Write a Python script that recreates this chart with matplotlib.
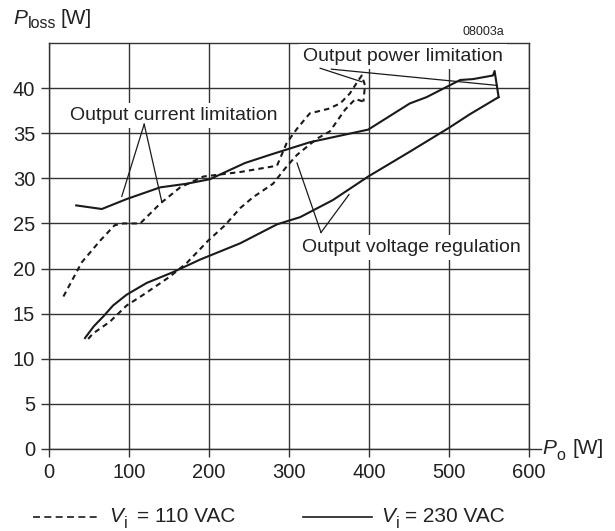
import matplotlib
matplotlib.use("Agg")
import matplotlib.pyplot as plt
from matplotlib.lines import Line2D

plt.rcParams['font.family'] = ['Liberation Sans', 'DejaVu Sans']

# 110 VAC, upper branch (output current limitation -> power limitation)
v110_upper_x = [18, 41, 64, 82, 93, 114, 139, 164, 193, 239, 285, 297, 310, 326, 349, 364, 376, 387, 391, 395, 394, 393]
v110_upper_y = [16.9, 20.7, 23.1, 24.8, 25.0, 25.0, 27.2, 29.0, 30.2, 30.7, 31.4, 33.9, 35.5, 37.2, 37.7, 38.3, 39.4, 40.9, 41.4, 40.3, 39.4, 38.5]
# 110 VAC, lower branch (output voltage regulation)
v110_lower_x = [49, 55, 76, 97, 118, 151, 172, 199, 220, 239, 255, 280, 297, 310, 335, 351, 370, 383, 393]
v110_lower_y = [12.2, 12.8, 14.1, 15.9, 17.1, 19.1, 20.6, 23.1, 24.8, 26.7, 27.9, 29.4, 31.3, 32.6, 34.4, 35.2, 37.6, 38.8, 38.5]
# 230 VAC, upper branch
v230_upper_x = [34, 66, 97, 139, 172, 201, 245, 276, 326, 399, 451, 472, 514, 530, 555, 557, 562]
v230_upper_y = [27.0, 26.6, 27.7, 29.0, 29.4, 29.9, 31.7, 32.6, 34.0, 35.4, 38.3, 39.0, 40.9, 41.0, 41.4, 41.9, 39.0]
# 230 VAC, lower branch
v230_lower_x = [45, 56, 68, 80, 97, 122, 155, 189, 239, 285, 314, 355, 399, 450, 500, 526, 562]
v230_lower_y = [12.3, 13.6, 14.7, 15.9, 17.1, 18.4, 19.6, 21.0, 22.8, 24.9, 25.7, 27.6, 30.2, 32.9, 35.6, 37.1, 39.0]

x_ticks = [0, 100, 200, 300, 400, 500, 600]
y_ticks = [0, 5, 10, 15, 20, 25, 30, 35, 40]

TXT = '#222222'
GRID = '#333333'
LINE = '#1a1a1a'

fig = plt.figure(figsize=(6.15, 5.31), dpi=100)
ax = fig.add_axes([49/615, 82/531, 480/615, 406/531])
ax.set_xlim(0, 600)
ax.set_ylim(0, 45)

ax.set_xticks(x_ticks)
ax.set_yticks(y_ticks)
ax.tick_params(axis='both', labelsize=14.5, length=6, width=1, color=GRID, labelcolor=TXT)
ax.tick_params(axis='x', pad=4)
ax.tick_params(axis='y', pad=4)
ax.grid(True, color=GRID, lw=1)
ax.set_axisbelow(True)
for s in ax.spines.values():
    s.set_color(GRID)
    s.set_linewidth(1)

dash = (0, (2.6, 2.0))
ax.plot(v110_upper_x, v110_upper_y, color=LINE, lw=1.5, linestyle=dash, zorder=3)
ax.plot(v110_lower_x, v110_lower_y, color=LINE, lw=1.5, linestyle=dash, zorder=3)
ax.plot(v230_upper_x, v230_upper_y, color=LINE, lw=1.5, zorder=3)
ax.plot(v230_lower_x, v230_lower_y, color=LINE, lw=1.5, zorder=3)

# extension of x axis beyond 600
ax.plot([1.0, 1.025], [0, 0], transform=ax.transAxes, color=GRID, lw=1, clip_on=False)

box = dict(facecolor='white', edgecolor='none', pad=3)
ak = dict(color=LINE, lw=0.9, zorder=5)

# Output current limitation
ax.text(156, 37.0, 'Output current limitation', fontsize=14, color=TXT, ha='center', va='center', bbox=box, zorder=4)
ax.plot([119, 91], [36.0, 28.0], **ak)
ax.plot([119, 141], [36.0, 27.4], **ak)

# Output power limitation
ax.text(442, 43.5, 'Output power limitation', fontsize=14, color=TXT, ha='center', va='center', bbox=box, zorder=4)
ax.plot([339, 391], [42.2, 40.7], **ak)
ax.plot([353, 560], [42.1, 40.3], **ak)

# Output voltage regulation
ax.text(453, 22.3, 'Output voltage regulation', fontsize=14, color=TXT, ha='center', va='center', bbox=box, zorder=4)
ax.plot([340, 310], [24.0, 31.7], **ak)
ax.plot([340, 375], [24.0, 28.2], **ak)

# y-axis label
fig.text(13/615, 1 - 19/531, 'P', fontsize=15, color=TXT, va='center', ha='left', style='italic')
fig.text(28/615, 1 - 23/531, 'loss', fontsize=11.5, color=TXT, va='center', ha='left')
fig.text(60/615, 1 - 19/531, '[W]', fontsize=15, color=TXT, va='center', ha='left')

fig.text(504/615, 1 - 32/531, '08003a', fontsize=9, color=TXT, va='center', ha='right')

# x-axis label
fig.text(542/615, 1 - 449/531, 'P', fontsize=15, color=TXT, va='center', ha='left', style='italic')
fig.text(556/615, 1 - 456/531, 'o', fontsize=11.5, color=TXT, va='center', ha='left')
fig.text(572/615, 1 - 449/531, '[W]', fontsize=15, color=TXT, va='center', ha='left')

# legend
fig.add_artist(Line2D([33/615, 99/615], [1 - 517/531, 1 - 517/531], color=LINE, lw=1.2, linestyle=(0, (4.2, 2.6))))
fig.text(109/615, 1 - 516/531, 'V', fontsize=15, color=TXT, va='center', ha='left', style='italic')
fig.text(124/615, 1 - 523/531, 'i', fontsize=11.5, color=TXT, va='center', ha='left')
fig.text(137/615, 1 - 516/531, '= 110 VAC', fontsize=15, color=TXT, va='center', ha='left')

fig.add_artist(Line2D([303/615, 372/615], [1 - 517/531, 1 - 517/531], color=LINE, lw=1.2))
fig.text(381/615, 1 - 516/531, 'V', fontsize=15, color=TXT, va='center', ha='left', style='italic')
fig.text(396/615, 1 - 523/531, 'i', fontsize=11.5, color=TXT, va='center', ha='left')
fig.text(405/615, 1 - 516/531, '= 230 VAC', fontsize=15, color=TXT, va='center', ha='left')

fig.savefig('out.png', dpi=100)
